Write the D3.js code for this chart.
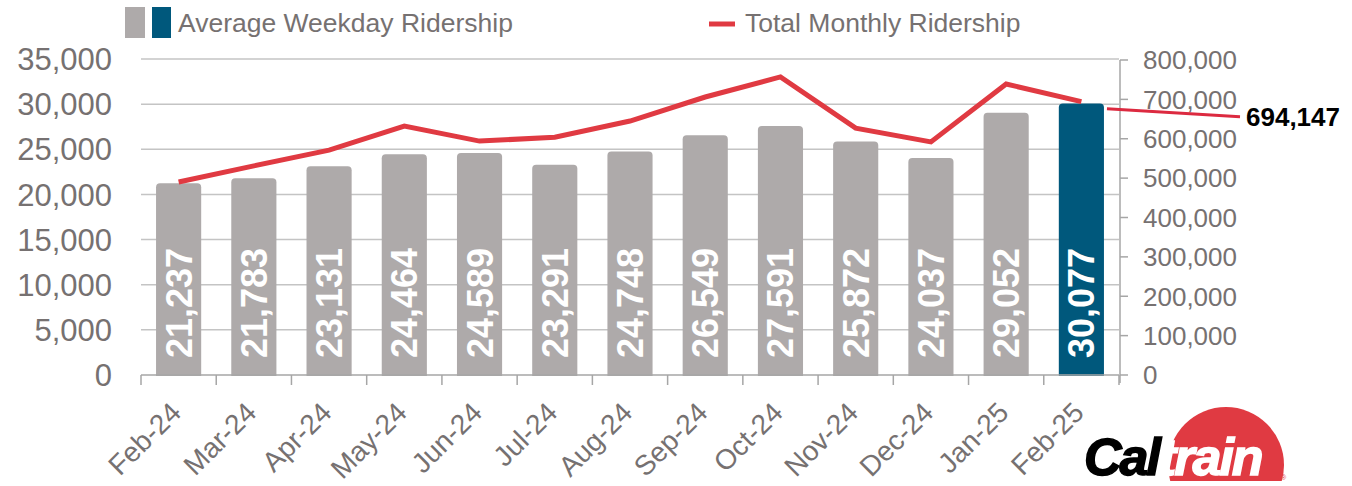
<!DOCTYPE html>
<html>
<head>
<meta charset="utf-8">
<script src="https://cdn.jsdelivr.net/npm/d3@7"></script>
<style>
  body { margin: 0; background: #fff; }
  svg { display: block; font-family: "Liberation Sans", Arial, sans-serif; }
</style>
</head>
<body>
<div id="chart"></div>
<script>
// Caltrain ridership - weekday bars + monthly line
const months = ["Feb-24", "Mar-24", "Apr-24", "May-24", "Jun-24", "Jul-24", "Aug-24",
                "Sep-24", "Oct-24", "Nov-24", "Dec-24", "Jan-25", "Feb-25"];
const weekday = [21237, 21783, 23131, 24464, 24589, 23291, 24748, 26549, 27591, 25872, 24037, 29052, 30077];
const monthly = [490000, 531000, 571000, 632000, 594000, 604000, 645000, 706000, 757000, 627000, 592000, 739000, 694147];
const leftTicks = [0, 5000, 10000, 15000, 20000, 25000, 30000, 35000];
const rightTicks = [0, 100000, 200000, 300000, 400000, 500000, 600000, 700000, 800000];

const width = 1352;
const height = 486;
const margin = { top: 59, right: 233, bottom: 111, left: 141 };

const grey = "#767171";
const barGrey = "#aeaaaa";
const barBlue = "#00587c";
const red = "#e03a42";

const svg = d3.select("#chart").append("svg")
    .attr("width", width)
    .attr("height", height)
    .style("background", "#fff");

const x = d3.scaleBand()
    .domain(months)
    .range([margin.left, width - margin.right])
    .paddingInner(0.4)
    .paddingOuter(0.2);

const baseY = height - margin.bottom;
const yL = d3.scaleLinear().domain([0, 35000]).range([baseY, margin.top]);
const yR = d3.scaleLinear().domain([0, 800000]).range([baseY, 60]);

const x0 = margin.left, x1 = width - margin.right;

// gridlines
svg.append("g")
    .selectAll("line")
    .data(leftTicks.filter(d => d > 0))
    .join("line")
    .attr("x1", x0).attr("x2", x1)
    .attr("y1", d => yL(d)).attr("y2", d => yL(d))
    .attr("stroke", "#c4c4c4")
    .attr("stroke-width", 1.5);

// left tick labels
svg.append("g")
    .selectAll("text")
    .data(leftTicks)
    .join("text")
    .attr("x", 112)
    .attr("y", d => yL(d))
    .attr("dy", "0.36em")
    .attr("text-anchor", "end")
    .style("font-size", "31px")
    .style("fill", grey)
    .text(d3.format(","));

// right axis
const rightAxis = svg.append("g");
rightAxis.append("line")
    .attr("x1", x1 + 1).attr("x2", x1 + 1)
    .attr("y1", yR(800000)).attr("y2", baseY + 8)
    .attr("stroke", "#a6a6a6").attr("stroke-width", 1.5);
rightAxis.selectAll("line.tick")
    .data(rightTicks)
    .join("line")
    .attr("class", "tick")
    .attr("x1", x1 + 1).attr("x2", x1 + 9)
    .attr("y1", d => yR(d)).attr("y2", d => yR(d))
    .attr("stroke", "#a6a6a6").attr("stroke-width", 1.5);
rightAxis.selectAll("text")
    .data(rightTicks)
    .join("text")
    .attr("x", x1 + 24)
    .attr("y", d => yR(d))
    .attr("dy", "0.36em")
    .style("font-size", "26px")
    .style("fill", grey)
    .text(d3.format(","));

// bars with slightly rounded tops
function barPath(bx, by, bw, bh, r) {
    return `M${bx},${by + bh}V${by + r}Q${bx},${by} ${bx + r},${by}` +
           `H${bx + bw - r}Q${bx + bw},${by} ${bx + bw},${by + r}V${by + bh}Z`;
}

svg.append("g")
    .selectAll("path")
    .data(months)
    .join("path")
    .attr("d", (m, i) => barPath(x(m), yL(weekday[i]), x.bandwidth(), baseY - yL(weekday[i]) + 1, 4))
    .attr("fill", (m, i) => i === months.length - 1 ? barBlue : barGrey);

// bar labels
svg.append("g")
    .selectAll("text")
    .data(months)
    .join("text")
    .attr("transform", m => `translate(${x(m) + x.bandwidth() / 2},${baseY - 17}) rotate(-90)`)
    .attr("dy", "0.36em")
    .style("font-size", "36px")
    .style("font-weight", "bold")
    .style("fill", "#fff")
    .text((m, i) => d3.format(",")(weekday[i]));

// bottom axis
const step = x.step();
const bottom = svg.append("g");
bottom.append("line")
    .attr("x1", x0).attr("x2", x1)
    .attr("y1", baseY).attr("y2", baseY)
    .attr("stroke", "#a6a6a6").attr("stroke-width", 1.5);
bottom.selectAll("line.tick")
    .data(months.concat(["end"]))
    .join("line")
    .attr("class", "tick")
    .attr("x1", (d, i) => x0 + i * step).attr("x2", (d, i) => x0 + i * step)
    .attr("y1", baseY).attr("y2", baseY + 10)
    .attr("stroke", "#a6a6a6").attr("stroke-width", 1.5);
bottom.selectAll("text")
    .data(months)
    .join("text")
    .attr("transform", m => `translate(${x(m) + x.bandwidth() / 2 - 3},${baseY + 32}) rotate(-45)`)
    .attr("text-anchor", "end")
    .attr("dy", "0.36em")
    .style("font-size", "28px")
    .style("fill", grey)
    .text(m => m);

// monthly line
const line = d3.line()
    .x((d, i) => x(months[i]) + x.bandwidth() / 2)
    .y(d => yR(d));

svg.append("path")
    .datum(monthly)
    .attr("d", line)
    .attr("fill", "none")
    .attr("stroke", red)
    .attr("stroke-width", 5)
    .attr("stroke-linejoin", "miter");

// callout for last value
const lastVal = monthly[monthly.length - 1];
svg.append("line")
    .attr("x1", x(months[months.length - 1]) + x.bandwidth() + 3)
    .attr("y1", yR(lastVal) + 7)
    .attr("x2", 1240)
    .attr("y2", yR(lastVal) + 15)
    .attr("stroke", "#dc2a40")
    .attr("stroke-width", 3);
svg.append("text")
    .attr("x", 1246)
    .attr("y", yR(lastVal) + 15)
    .attr("dy", "0.36em")
    .style("font-size", "26px")
    .style("font-weight", "bold")
    .style("fill", "#000")
    .text(d3.format(",")(lastVal));

// legend
const legend = svg.append("g");
legend.append("rect").attr("x", 125).attr("y", 7).attr("width", 20).attr("height", 31).attr("fill", barGrey);
legend.append("rect").attr("x", 152).attr("y", 7).attr("width", 19).attr("height", 31).attr("fill", barBlue);
legend.append("text")
    .attr("x", 178).attr("y", 22).attr("dy", "0.36em")
    .style("font-size", "26.5px").style("fill", grey)
    .text("Average Weekday Ridership");
legend.append("line")
    .attr("x1", 709).attr("x2", 735).attr("y1", 24).attr("y2", 24)
    .attr("stroke", red).attr("stroke-width", 5);
legend.append("text")
    .attr("x", 745).attr("y", 22).attr("dy", "0.36em")
    .style("font-size", "26.5px").style("fill", grey)
    .text("Total Monthly Ridership");

// Caltrain logo
const logo = svg.append("g");
logo.append("clipPath").attr("id", "logo-clip")
    .append("rect").attr("x", 1150).attr("y", 395).attr("width", 160).attr("height", 86);
logo.append("circle")
    .attr("cx", 1226).attr("cy", 465).attr("r", 58)
    .attr("fill", "#e03a42")
    .attr("clip-path", "url(#logo-clip)");
const logoText = logo.append("text")
    .attr("x", 1084).attr("y", 475)
    .style("font-size", "52px")
    .style("font-weight", "bold")
    .style("font-style", "italic")
    .style("letter-spacing", "-2px")
    .attr("stroke-width", 1.5);
logoText.append("tspan").attr("fill", "#000").attr("stroke", "#000").text("Cal");
logoText.append("tspan").attr("fill", "#fff").attr("stroke", "#fff").text("train");
logo.append("text")
    .attr("x", 1281).attr("y", 480)
    .style("font-size", "7px")
    .style("fill", "#e03a42")
    .text("®");
</script>
</body>
</html>
